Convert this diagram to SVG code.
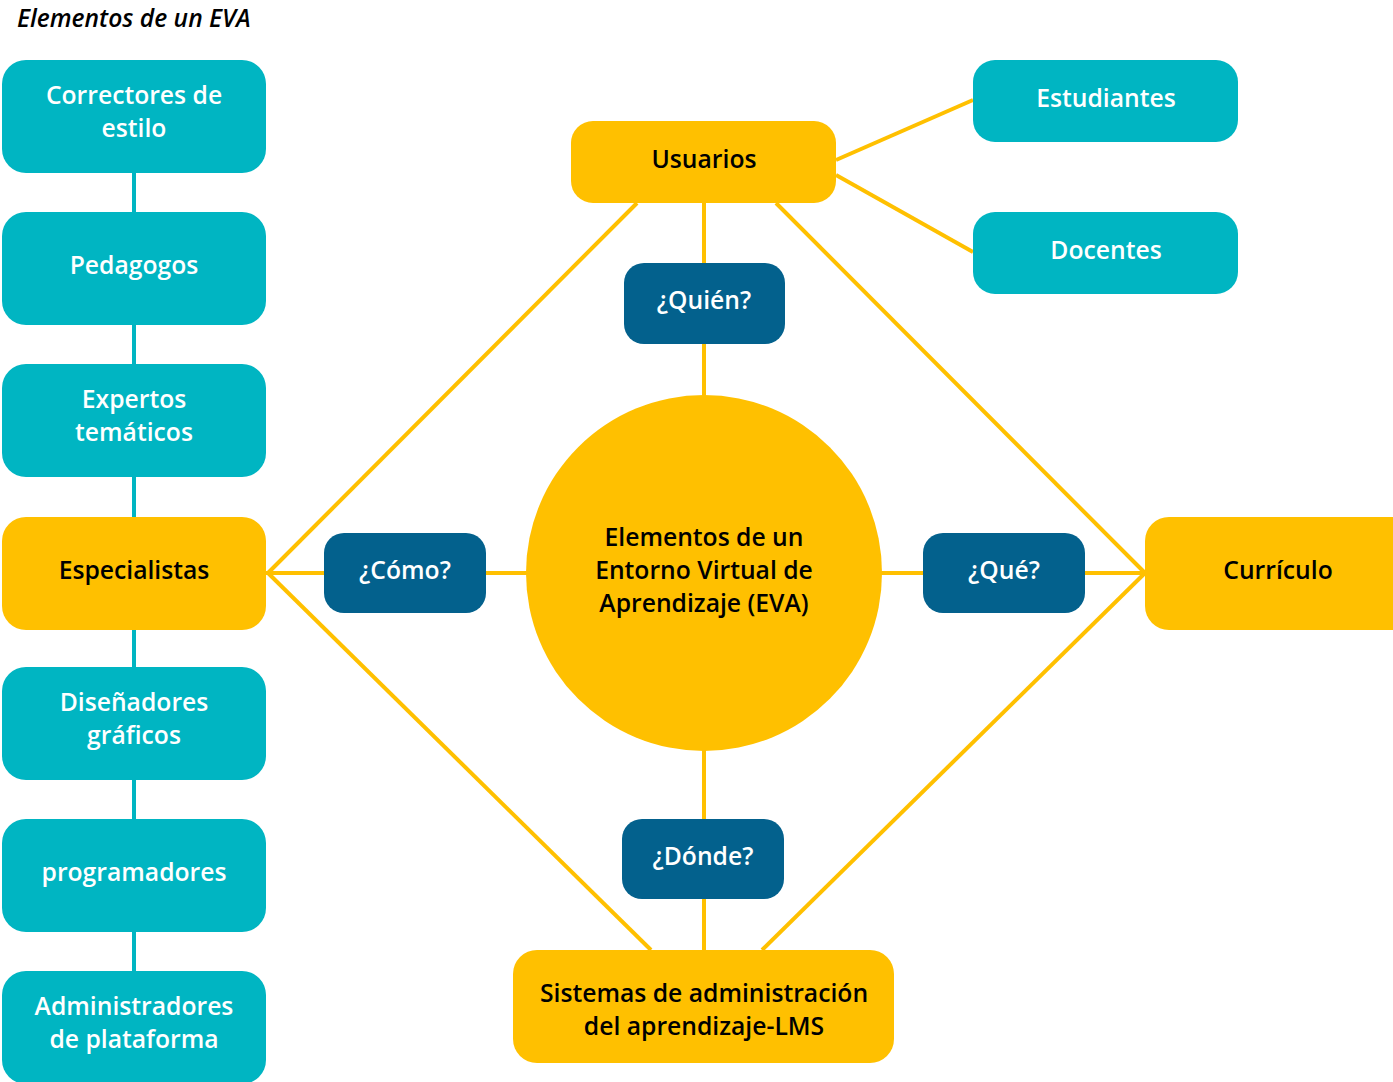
<svg xmlns="http://www.w3.org/2000/svg" width="1393" height="1082" viewBox="0 0 1393 1082">
  <style>
    text { font-family: "Open Sans", "Noto Sans", "Liberation Sans", sans-serif; font-size: 24.7px; text-anchor: middle; font-weight: 600; }
    .teal { fill: #00B5C2; }
    .gold { fill: #FFC000; }
    .navy { fill: #03618D; }
    .light { fill: #FFFFFF; }
    .dark { fill: #000000; }
    .title { font-style: italic; font-size: 24.6px; text-anchor: start; fill: #000; }
    .gl { stroke: #FFC000; stroke-width: 4; fill: none; }
    .tl { stroke: #00B5C2; stroke-width: 4; fill: none; }
  </style>

  <text class="title" x="17" y="27">Elementos de un EVA</text>

  <!-- connectors -->
  <g id="connectors">
    <line class="tl" x1="134" y1="170" x2="134" y2="1000"/>
    <line class="gl" x1="836" y1="160" x2="973" y2="100"/>
    <line class="gl" x1="836" y1="175" x2="973" y2="252"/>
    <line class="gl" x1="704" y1="203" x2="704" y2="950"/>
    <line class="gl" x1="266" y1="573" x2="1145" y2="573"/>
    <line class="gl" x1="268" y1="573" x2="637" y2="203"/>
    <line class="gl" x1="268" y1="573" x2="651" y2="950"/>
    <line class="gl" x1="1145" y1="573" x2="776" y2="203"/>
    <line class="gl" x1="1145" y1="573" x2="762" y2="950"/>
  </g>

  <!-- left column -->
  <g id="correctores">
    <rect class="teal" x="2" y="60" width="264" height="113" rx="24"/>
    <text class="light" x="134" y="104">Correctores de</text>
    <text class="light" x="134" y="137">estilo</text>
  </g>
  <g id="pedagogos">
    <rect class="teal" x="2" y="212" width="264" height="113" rx="24"/>
    <text class="light" x="134" y="274">Pedagogos</text>
  </g>
  <g id="expertos">
    <rect class="teal" x="2" y="364" width="264" height="113" rx="24"/>
    <text class="light" x="134" y="408">Expertos</text>
    <text class="light" x="134" y="441">temáticos</text>
  </g>
  <g id="especialistas">
    <rect class="gold" x="2" y="517" width="264" height="113" rx="24"/>
    <text class="dark" x="134" y="579">Especialistas</text>
  </g>
  <g id="disenadores">
    <rect class="teal" x="2" y="667" width="264" height="113" rx="24"/>
    <text class="light" x="134" y="711">Diseñadores</text>
    <text class="light" x="134" y="744">gráficos</text>
  </g>
  <g id="programadores">
    <rect class="teal" x="2" y="819" width="264" height="113" rx="24"/>
    <text class="light" x="134" y="881">programadores</text>
  </g>
  <g id="administradores">
    <rect class="teal" x="2" y="971" width="264" height="113" rx="24"/>
    <text class="light" x="134" y="1015">Administradores</text>
    <text class="light" x="134" y="1048">de plataforma</text>
  </g>

  <!-- top -->
  <g id="usuarios">
    <rect class="gold" x="571" y="121" width="265" height="82" rx="22"/>
    <text class="dark" x="704" y="168">Usuarios</text>
  </g>
  <g id="estudiantes">
    <rect class="teal" x="973" y="60" width="265" height="82" rx="22"/>
    <text class="light" x="1106" y="107">Estudiantes</text>
  </g>
  <g id="docentes">
    <rect class="teal" x="973" y="212" width="265" height="82" rx="22"/>
    <text class="light" x="1106" y="259">Docentes</text>
  </g>

  <!-- questions -->
  <g id="quien">
    <rect class="navy" x="624" y="263" width="161" height="81" rx="20"/>
    <text class="light" x="704" y="309">¿Quién?</text>
  </g>
  <g id="como">
    <rect class="navy" x="324" y="533" width="162" height="80" rx="20"/>
    <text class="light" x="405" y="579">¿Cómo?</text>
  </g>
  <g id="que">
    <rect class="navy" x="923" y="533" width="162" height="80" rx="20"/>
    <text class="light" x="1004" y="579">¿Qué?</text>
  </g>
  <g id="donde">
    <rect class="navy" x="622" y="819" width="162" height="80" rx="20"/>
    <text class="light" x="703" y="865">¿Dónde?</text>
  </g>

  <!-- centre -->
  <g id="eva">
    <circle class="gold" cx="704" cy="573" r="178"/>
    <text class="dark" x="704" y="546">Elementos de un</text>
    <text class="dark" x="704" y="579">Entorno Virtual de</text>
    <text class="dark" x="704" y="612">Aprendizaje (EVA)</text>
  </g>

  <g id="curriculo">
    <rect class="gold" x="1145" y="517" width="270" height="113" rx="24"/>
    <text class="dark" x="1278" y="579">Currículo</text>
  </g>

  <g id="lms">
    <rect class="gold" x="513" y="950" width="381" height="113" rx="24"/>
    <text class="dark" x="704" y="1002">Sistemas de administración</text>
    <text class="dark" x="704" y="1035">del aprendizaje-LMS</text>
  </g>
</svg>
